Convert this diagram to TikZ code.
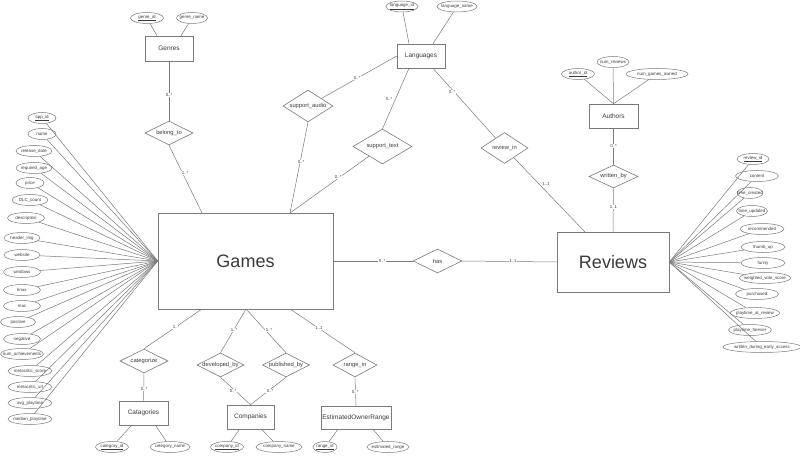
\documentclass[tikz,border=0pt]{standalone}
\usepackage{fontspec}
\setmainfont{Liberation Sans}
\usetikzlibrary{shapes.geometric,calc}
\definecolor{ln}{HTML}{7A7A7A}
\definecolor{tx}{HTML}{3A3A3A}
\newcommand{\zt}[1]{\makebox[0pt]{#1}}
\newcommand{\zu}[1]{\makebox[0pt]{\underline{#1}}}
\begin{document}
\begin{tikzpicture}[x=1pt,y=-1pt,
 ent/.style={draw=ln, line width=0.6pt, rectangle, inner sep=0pt, text=tx, font=\fontsize{6.5}{7}\selectfont},
 big/.style={ent, font=\fontsize{18}{20}\selectfont},
 rel/.style={draw=ln, line width=0.6pt, diamond, aspect=2, inner sep=0pt, text=tx, font=\fontsize{5.8}{7}\selectfont},
 attr/.style={draw=ln, line width=0.5pt, ellipse, inner sep=0pt, minimum height=11pt, text=tx, font=\fontsize{4.4}{5}\selectfont},
 card/.style={fill=white, inner sep=0.4pt, text=tx, font=\fontsize{4.3}{5}\selectfont},
 conn/.style={draw=ln, line width=0.5pt}]
\useasboundingbox (0,0) rectangle (800,457);

% entities
\node[big, minimum width=175pt, minimum height=96pt] (games) at (245.5,261) {Games};
\node[big, minimum width=112pt, minimum height=60pt] (reviews) at (613,262) {Reviews};
\node[ent, minimum width=48pt, minimum height=25pt] (genres) at (169,48.5) {Genres};
\node[ent, minimum width=48pt, minimum height=24pt] (lang) at (421,56) {Languages};
\node[ent, minimum width=49pt, minimum height=24pt] (authors) at (613.5,116) {Authors};
\node[ent, minimum width=49pt, minimum height=24pt] (catag) at (143.5,413) {Catagories};
\node[ent, minimum width=47pt, minimum height=24pt] (comp) at (250.5,417) {Companies};
\node[ent, minimum width=70pt, minimum height=23pt] (eor) at (356,417.5) {EstimatedOwnerRange};

% relationships
\node[rel, minimum width=48pt, minimum height=24pt] (belong) at (169,133) {belong\_to};
\node[rel, minimum width=50pt, minimum height=32pt] (saudio) at (308,106) {support\_audio};
\node[rel, minimum width=59pt, minimum height=35pt] (stext) at (382.5,146.5) {support\_text};
\node[rel, minimum width=47pt, minimum height=31pt] (revin) at (504.5,148) {review\_in};
\node[rel, minimum width=49pt, minimum height=23pt] (written) at (613.5,176.5) {written\_by};
\node[rel, minimum width=49pt, minimum height=24pt] (has) at (437.5,261) {has};
\node[rel, minimum width=48pt, minimum height=24pt] (categorize) at (144,361) {categorize};
\node[rel, minimum width=47pt, minimum height=24pt] (developed) at (220.5,365) {developed\_by};
\node[rel, minimum width=47pt, minimum height=24pt] (published) at (286,365) {published\_by};
\node[rel, minimum width=44pt, minimum height=24pt] (rangein) at (355,365) {range\_in};

% attachment points on Games
\coordinate (gt1) at (202,213);
\coordinate (gt2) at (290,213);
\coordinate (gb1) at (202,309);
\coordinate (gb2) at (246,309);
\coordinate (gb3) at (290,309);
\coordinate (rt) at (585,232);

% top attributes
\node[attr, minimum width=33pt] (gid) at (147,18) {\zu{genre\_id}};
\node[attr, minimum width=31pt] (gname) at (192,18) {\zt{genre\_name}};
\node[attr, minimum width=32pt] (lid) at (402,6.5) {\zu{language\_id}};
\node[attr, minimum width=40pt] (lname) at (457,6.5) {\zt{language\_name}};
\node[attr, minimum width=33pt] (aid) at (578,74) {\zu{author\_id}};
\node[attr, minimum width=32pt] (nrev) at (613,62) {\zt{num\_reviews}};
\node[attr, minimum width=62pt] (ngo) at (657,74) {\zt{num\_games\_owned}};

% bottom attributes
\node[attr, minimum width=33pt] (cid) at (112,447) {\zu{category\_id}};
\node[attr, minimum width=40pt] (cname) at (170,447) {\zt{category\_name}};
\node[attr, minimum width=33pt] (compid) at (227,447) {\zu{company\_id}};
\node[attr, minimum width=46pt] (compname) at (279,447) {\zt{company\_name}};
\node[attr, minimum width=24pt] (rid) at (325,447) {\zu{range\_id}};
\node[attr, minimum width=42pt] (erange) at (388,447) {\zt{estimated\_range}};

% left attributes of Games
\node[attr, minimum width=28pt] (appid) at (42,118) {\zu{app\_id}};
\draw[conn] (appid) -- (games.west);
\foreach \n/\t/\x/\y/\w in {
  a2/name/42/134/28,
  a3/release\_date/34/151/36,
  a4/required\_age/34/168/36,
  a5/price/30/183/28,
  a6/DLC\_count/30/200/36,
  a7/description/26/218/37,
  a8/header\_img/22/238/36,
  a9/website/22/255/36,
  a10/windows/22/272/37,
  a11/linux/22/290/37,
  a12/mac/22/306/37,
  a13/positive/18/322/35,
  a14/negative/22/339/37,
  a15/num\_achievements/22/354/43,
  a16/metacritic\_score/30/371/44,
  a17/metacritic\_url/30/387/44,
  a18/avg\_playtime/30/403/44,
  a19/median\_playtime/30/419/44}{
  \node[attr, minimum width=\w pt] (\n) at (\x,\y) {\zt{\t}};
  \draw[conn] (\n) -- (games.west);
}

% right attributes of Reviews
\node[attr, minimum width=32pt] (revid) at (753,159) {\zu{review\_id}};
\draw[conn] (revid) -- (reviews.east);
\foreach \n/\t/\x/\y/\w in {
  r2/content/757/176/43,
  r3/time\_created/750/193/26,
  r4/time\_updated/752/211/31,
  r5/recommended/762/229/44,
  r6/thumb\_up/763/247/44,
  r7/funny/763/263/44,
  r8/weighted\_vote\_score/765/278/51,
  r9/purchased/757/294/43,
  r10/playtime\_at\_review/755/313/49,
  r11/playtime\_forever/750/330/43,
  r12/written\_during\_early\_access/762/347/78}{
  \node[attr, minimum width=\w pt] (\n) at (\x,\y) {\zt{\t}};
  \draw[conn] (\n) -- (reviews.east);
}

% attribute connectors
\draw[conn] (gid) -- ($(genres.north)+(-12,0)$);
\draw[conn] (gname) -- ($(genres.north)+(12,0)$);
\draw[conn] (lid) -- ($(lang.north)+(-12,0)$);
\draw[conn] (lname) -- ($(lang.north)+(12,0)$);
\draw[conn] (aid) -- (authors.north);
\draw[conn] (nrev) -- (authors.north);
\draw[conn] (ngo) -- (authors.north);
\draw[conn] (cid) -- ($(catag.south)+(-12,0)$);
\draw[conn] (cname) -- ($(catag.south)+(12,0)$);
\draw[conn] (compid) -- ($(comp.south)+(-11,0)$);
\draw[conn] (compname) -- ($(comp.south)+(11,0)$);
\draw[conn] (rid) -- ($(eor.south)+(-18,0)$);
\draw[conn] (erange) -- ($(eor.south)+(17,0)$);

% relationship connectors
\draw[conn] (genres.south) -- (belong.north);
\draw[conn] (belong.south) -- (gt1);
\draw[conn] (lang.west) -- (saudio);
\draw[conn] (saudio.south) -- (gt2);
\draw[conn] ($(lang.south)+(-12,0)$) -- (stext.north);
\draw[conn] (stext) -- (gt2);
\draw[conn] ($(lang.south)+(12,0)$) -- (revin);
\draw[conn] (revin) -- (rt);
\draw[conn] (authors.south) -- (written.north);
\draw[conn] (written.south) -- (reviews.north);
\draw[conn] (games.east) -- (has.west);
\draw[conn] (has.east) -- (reviews.west);
\draw[conn] (gb1) -- (categorize.north);
\draw[conn] (categorize.south) -- (catag.north);
\draw[conn] (gb2) -- (developed.north);
\draw[conn] (gb2) -- (published.north);
\draw[conn] (developed.south) -- (comp.north);
\draw[conn] (published.south) -- (comp.north);
\draw[conn] (gb3) -- (rangein.north);
\draw[conn] (rangein.south) -- (eor.north);

% cardinalities
\node[card] (c1) at (169,95) {0..*};
\node[card] (c2) at (185,173) {1..*};
\node[card] (c3) at (357,78) {0..*};
\node[card] (c4) at (301,162) {0..*};
\node[card] (c5) at (389,99) {0..*};
\node[card] (c6) at (338,177) {0..*};
\node[card] (c7) at (452,92) {0..*};
\node[card] (c8) at (546,184) {1..1};
\node[card] (c9) at (613.5,146) {0..*};
\node[card] (c10) at (613.5,207) {1..1};
\node[card] (c11) at (382,261) {0..*};
\node[card] (c12) at (513,261.5) {1..1};
\node[card] (c13) at (176,327) {1..*};
\node[card] (c14) at (144,389) {0..*};
\node[card] (c15) at (234,330) {1..*};
\node[card] (c16) at (269,330) {1..*};
\node[card] (c17) at (233,391) {0..*};
\node[card] (c18) at (270,391) {0..*};
\node[card] (c19) at (319,328) {1..1};
\node[card] (c20) at (355,392) {0..*};
\end{tikzpicture}
\end{document}
